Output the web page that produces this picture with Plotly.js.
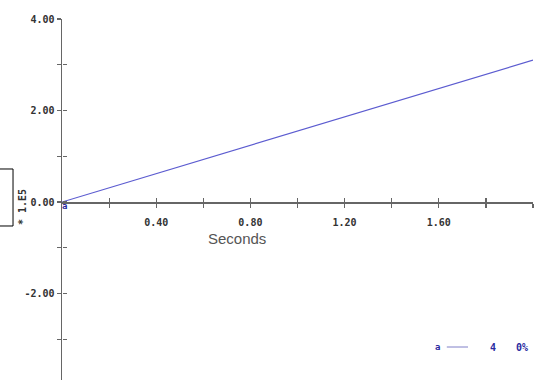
<!DOCTYPE html>
<html>
<head>
<meta charset="utf-8">
<script src="https://cdn.plot.ly/plotly-3.0.1.min.js"></script>
<style>html,body{margin:0;padding:0;background:#fff}#chart{width:540px;height:380px}</style>
</head>
<body>
<div id="chart"></div>
<script>
// data
var seconds = [0, 2.0];
var values = [0, 3.1];
var pointLabels = ['a', ''];
var xTickVals = [0.2, 0.4, 0.6, 0.8, 1.0, 1.2, 1.4, 1.6, 1.8, 2.0];
var xTickText = ['', '0.40', '', '0.80', '', '1.20', '', '1.60', '', ''];
var yTickVals = [4, 3, 2, 1, 0, -1, -2, -3];
var yTickText = ['4.00', '', '2.00', '', '0.00', '', '-2.00', ''];
var xTitle = 'Seconds';
var yTitle = '* 1.E5';
var legendItems = ['a', '4', '0%'];

var axisColor = '#666';
var tickFont = {family: 'DejaVu Sans Mono', size: 10, color: '#333', weight: 'bold'};
var blue = '#2a2aa0';
var xPos = 0.493;
var legY = 0.0914;

var traces = [
  {x: seconds, y: values, text: pointLabels, mode: 'lines+text', textposition: 'bottom right',
   textfont: {family: 'DejaVu Sans Mono', size: 9, color: blue, weight: 'bold'},
   line: {color: '#5c5cd0', width: 1.2}, hoverinfo: 'none', cliponaxis: false},
  {x: [seconds[0]], y: [values[0]], xaxis: 'x2', yaxis: 'y2', mode: 'markers',
   marker: {opacity: 0}, hoverinfo: 'none'}
];

var layout = {
  width: 540, height: 380,
  margin: {l: 62, r: 7, t: 19, b: 0},
  paper_bgcolor: '#fff', plot_bgcolor: '#fff',
  showlegend: false,
  xaxis: {range: [0, 2], anchor: 'free', position: xPos, showgrid: false, zeroline: false,
    showline: true, linecolor: axisColor, linewidth: 1.5,
    tickmode: 'array', tickvals: xTickVals, ticktext: xTickText,
    ticks: 'outside', ticklen: 4, tickcolor: axisColor, tickwidth: 1.2,
    ticklabelstandoff: 6, tickfont: tickFont},
  xaxis2: {range: [0, 2], overlaying: 'x', anchor: 'free', position: xPos, showgrid: false,
    zeroline: false, showline: false, tickmode: 'array', tickvals: xTickVals,
    ticks: 'inside', ticklen: 4, tickcolor: axisColor, tickwidth: 1.2, showticklabels: false},
  yaxis: {range: [-3.89, 4.0], showgrid: false, zeroline: false, showline: true,
    linecolor: axisColor, linewidth: 1.5,
    tickmode: 'array', tickvals: yTickVals, ticktext: yTickText,
    ticks: 'outside', ticklen: 4, tickcolor: axisColor, tickwidth: 1.2, tickfont: tickFont},
  yaxis2: {range: [-3.89, 4.0], overlaying: 'y', anchor: 'free', position: 0, showgrid: false,
    zeroline: false, showline: false, tickmode: 'array', tickvals: yTickVals,
    ticks: 'inside', ticklen: 4, tickcolor: axisColor, tickwidth: 1.2, showticklabels: false},
  annotations: [
    {text: xTitle, xref: 'paper', yref: 'paper', x: 0.3716, y: 0.393, showarrow: false,
     yanchor: 'middle', font: {family: 'Liberation Sans', size: 15, color: '#555'}},
    {text: yTitle, xref: 'paper', yref: 'paper', x: -0.1, y: 0.48, showarrow: false,
     yanchor: 'middle', textangle: -90,
     font: {family: 'DejaVu Sans Mono', size: 10, color: '#333', weight: 'bold'}},
    {text: legendItems[0], xref: 'paper', yref: 'paper', x: 0.807, y: legY, showarrow: false,
     yanchor: 'middle', font: {family: 'DejaVu Sans Mono', size: 9, color: blue, weight: 'bold'}},
    {text: legendItems[1], xref: 'paper', yref: 'paper', x: 0.926, y: legY, showarrow: false,
     yanchor: 'middle', font: {family: 'DejaVu Sans Mono', size: 10, color: blue, weight: 'bold'}},
    {text: legendItems[2], xref: 'paper', yref: 'paper', x: 0.994, y: legY, showarrow: false,
     yanchor: 'middle', font: {family: 'DejaVu Sans Mono', size: 10, color: blue, weight: 'bold'}}
  ],
  shapes: [
    {type: 'line', xref: 'paper', yref: 'paper', x0: 0.817, x1: 0.862, y0: legY, y1: legY,
     line: {color: '#8080c8', width: 1}},
    {type: 'rect', xref: 'paper', yref: 'paper', x0: -0.14, x1: -0.104, y0: 0.4266, y1: 0.5845,
     line: {color: '#000', width: 1}}
  ]
};

Plotly.newPlot('chart', traces, layout, {staticPlot: true});
</script>
</body>
</html>
